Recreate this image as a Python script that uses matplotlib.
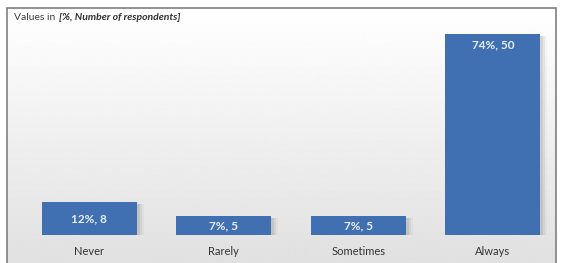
import numpy as np
import matplotlib.pyplot as plt
from matplotlib.patches import Rectangle

categories = ['Never', 'Rarely', 'Sometimes', 'Always']
percents = [12, 7, 7, 74]
counts = [8, 5, 5, 50]

plt.rcParams['font.family'] = ['Lato', 'DejaVu Sans']

W, H = 561, 263
fig = plt.figure(figsize=(W / 100, H / 100), dpi=100)

# background box with a soft gradient
bg = fig.add_axes([7 / W, 0, 549 / W, 255 / H])
grad = np.linspace(1.0, 0.88, 256).reshape(-1, 1)
bg.imshow(grad, cmap='gray', vmin=0, vmax=1, aspect='auto', extent=[0, 1, 0, 1])
bg.set_xlim(0, 1)
bg.set_ylim(0, 1)
bg.axis('off')
fig.patches.append(Rectangle((7 / W, -0.01), 549 / W, 255 / H + 0.01,
                             transform=fig.transFigure, fill=False,
                             edgecolor='#7f7f7f', linewidth=1.2))

ax = fig.add_axes([22 / W, 28 / H, 538 / W, 225 / H])
ax.patch.set_alpha(0)
x = np.arange(len(categories))
width = 0.71

# shadows
for i in range(len(x)):
    for k, a in enumerate([0.10, 0.07, 0.04]):
        ax.bar(x[i] + 0.02 + 0.015 * k, percents[i], width=width, bottom=-0.6,
               color='#404040', alpha=a, linewidth=0, zorder=1)

bars = ax.bar(x, percents, width=width, color='#4170B2', linewidth=0, zorder=2)

for i, b in enumerate(bars):
    lbl = f'{percents[i]}%, {counts[i]}'
    h = percents[i]
    if h > 20:
        y = h - 4
    else:
        y = h / 2
    ax.text(x[i], y, lbl, ha='center', va='center', color='#e8eef8',
            fontsize=8.5, fontweight='bold', zorder=3)

ax.set_xlim(-0.5, 3.5)
ax.set_ylim(0, 225 / (201 / 74))
ax.set_xticks(x)
ax.set_xticklabels(categories, fontsize=8, color='#333333')
ax.tick_params(axis='x', length=0, pad=8)
ax.set_yticks([])
for s in ax.spines.values():
    s.set_visible(False)

fig.text(14 / W, 1 - 17 / H, 'Values in ', fontsize=7.5, color='#404040',
         ha='left', va='center')
fig.text(59 / W, 1 - 17 / H, '[%, Number of respondents]', fontsize=7.5,
         color='#303030', ha='left', va='center', fontweight='bold',
         fontstyle='italic')

fig.savefig('out.png', dpi=100)
